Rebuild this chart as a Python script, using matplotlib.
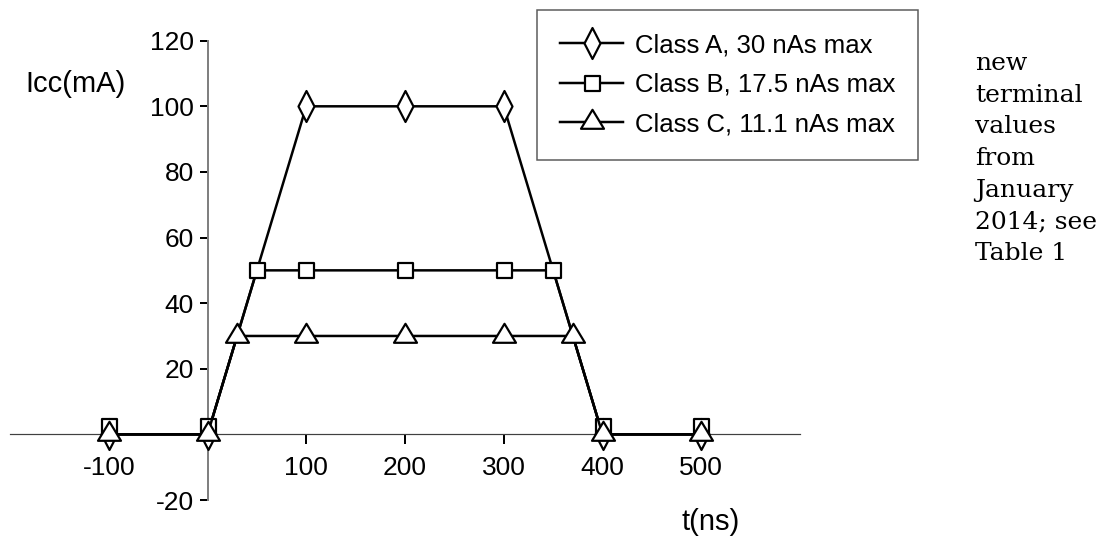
import matplotlib
matplotlib.use("Agg")
import matplotlib.pyplot as plt
from matplotlib.path import Path

# Current pulse shapes, t in ns, Icc in mA
t_a = [-100, 0, 100, 200, 300, 400, 500]
icc_a = [0, 0, 100, 100, 100, 0, 0]
t_b = [-100, 0, 50, 100, 200, 300, 350, 400, 500]
icc_b = [0, 0, 50, 50, 50, 50, 50, 0, 0]
t_c = [-100, 0, 30, 100, 200, 300, 370, 400, 500]
icc_c = [0, 0, 30, 30, 30, 30, 30, 0, 0]

labels = ["Class A, 30 nAs max", "Class B, 17.5 nAs max", "Class C, 11.1 nAs max"]
x_ticks = [-100, 100, 200, 300, 400, 500]
y_ticks = [-20, 20, 40, 60, 80, 100, 120]
note_lines = ["new", "terminal", "values", "from", "January", "2014; see", "Table 1"]

DPI = 100
W, H = 1097, 542
PT = 72 / DPI  # one pixel in points

plt.rcParams["axes.unicode_minus"] = False

SANS = "Liberation Sans"
FS_TICK = 19
FS_LEG = 18.5
FS_LAB = 21

# markers, vertices given in pixels
diamond = Path([(0, 15.5), (8, 0), (0, -15.5), (-8, 0), (0, 15.5)], closed=True)
square = Path([(-7.5, -7.5), (7.5, -7.5), (7.5, 7.5), (-7.5, 7.5), (-7.5, -7.5)], closed=True)
# on the zero line the squares sit a little higher, peeking out above the triangles
square_up = Path([(-7.5, 0.5), (7.5, 0.5), (7.5, 15.5), (-7.5, 15.5), (-7.5, 0.5)], closed=True)
triangle = Path([(0, 12.7), (11.5, -6.3), (-11.5, -6.3), (0, 12.7)], closed=True)

fig = plt.figure(figsize=(W / DPI, H / DPI), dpi=DPI)
ax = fig.add_axes([10 / W, 1 - 500 / H, 790 / W, (500 - 40.7) / H])
ax.set_xlim(-200, 600)
ax.set_ylim(-20, 120)

style = dict(color="black", lw=2.5 * PT, markerfacecolor="white",
             markeredgecolor="black", markeredgewidth=2.2 * PT, clip_on=False)
ax.plot(t_a, icc_a, marker=diamond, markersize=31 * PT, label=labels[0], zorder=3, **style)

b_top = [i for i, v in enumerate(icc_b) if v != 0]
b_zero = [i for i, v in enumerate(icc_b) if v == 0]
ax.plot(t_b, icc_b, marker=square, markersize=15 * PT, markevery=b_top,
        label=labels[1], zorder=4, **style)
ax.plot([t_b[i] for i in b_zero], [icc_b[i] for i in b_zero], ls="none",
        marker=square_up, markersize=31 * PT, zorder=4,
        **{k: v for k, v in style.items() if k not in ("color", "lw")})

ax.plot(t_c, icc_c, marker=triangle, markersize=25.4 * PT, label=labels[2], zorder=5, **style)

# axes crossing at the origin
ax.spines["top"].set_visible(False)
ax.spines["right"].set_visible(False)
ax.spines["left"].set_position(("data", 0))
ax.spines["bottom"].set_position(("data", 0))
ax.spines["left"].set_color("#808080")
ax.spines["left"].set_linewidth(2 * PT)
ax.spines["bottom"].set_color("#404040")
ax.spines["bottom"].set_linewidth(1.2 * PT)

ax.set_xticks(x_ticks)
ax.set_yticks(y_ticks)
ax.tick_params(axis="x", direction="out", length=10 * PT, width=2 * PT, pad=8.5,
               labelsize=FS_TICK, color="black")
ax.tick_params(axis="y", direction="out", length=8 * PT, width=2 * PT, pad=4,
               labelsize=FS_TICK, color="black")
for lab in ax.get_xticklabels() + ax.get_yticklabels():
    lab.set_family(SANS)

fig.text(25 / W, 1 - 92 / H, "Icc(mA)", family=SANS, fontsize=FS_LAB, va="baseline")
fig.text(681 / W, 1 - 530 / H, "t(ns)", family=SANS, fontsize=FS_LAB, va="baseline")

leg = ax.legend(loc="upper left", bbox_to_anchor=(537 / W, 1 - 10 / H),
                bbox_transform=fig.transFigure, prop={"family": SANS, "size": FS_LEG},
                frameon=True, fancybox=False, borderpad=0.9, labelspacing=0.61,
                handlelength=2.45, handletextpad=0.45, borderaxespad=0)
leg.get_frame().set_edgecolor("#303030")
leg.get_frame().set_linewidth(1.5 * PT)

# side note
for i, line in enumerate(note_lines):
    fig.text(975 / W, 1 - (70 + i * 31.7) / H, line, family="DejaVu Serif",
             fontsize=18, va="baseline")

fig.savefig("out.png", dpi=DPI)
